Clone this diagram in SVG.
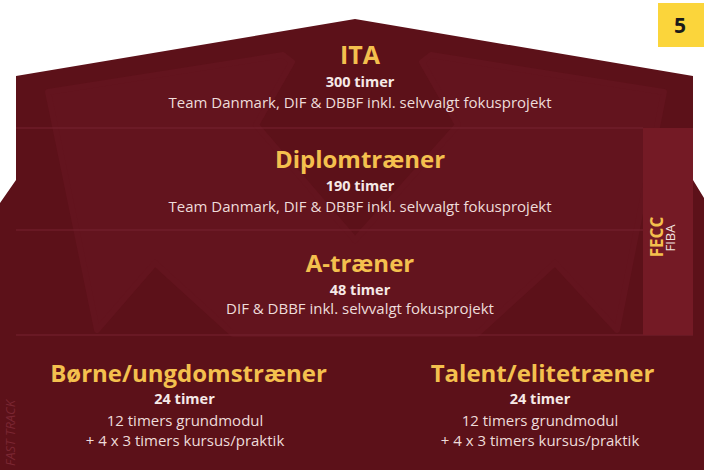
<svg xmlns="http://www.w3.org/2000/svg" width="704" height="470" viewBox="0 0 704 470">
  <style>
    .head { font-family: "Open Sans", "Liberation Sans", sans-serif; font-weight: 700; fill: #f4c04e; text-anchor: middle; }
    .hours { font-family: "Open Sans", "Liberation Sans", sans-serif; font-weight: 700; font-size: 14.5px; fill: #f6e9e7; text-anchor: middle; }
    .desc { font-family: "Open Sans", "Liberation Sans", sans-serif; font-size: 15px; fill: #eedcda; text-anchor: middle; }
    .sep { stroke: #772330; stroke-width: 1.2; }
  </style>
  <rect x="0" y="0" width="704" height="470" fill="#ffffff"/>
  <g id="background">
    <path d="M16,76 L355,19 L693,76 L693,180 L704,198 L704,470 L0,470 L0,203 L16,180 Z" fill="#5c1119"/>
    <polygon points="48,92 283,55 292,62 256,125 355,240 458,125 422,62 431,55 664,92 617,330 555,263 477,334 233,334 155,263 97,330" fill="#63141e" stroke="#63141e" stroke-width="6" stroke-linejoin="round"/>
    <line class="sep" x1="16" y1="128" x2="643" y2="128"/>
    <line class="sep" x1="16" y1="230" x2="643" y2="230"/>
    <line class="sep" x1="16" y1="335" x2="693" y2="335"/>
    <text x="15" y="466" transform="rotate(-90 15 466)" font-family="'Open Sans', sans-serif" font-style="italic" font-size="13" fill="#7a2632">FAST TRACK</text>
  </g>
  <g id="badge">
    <rect x="658" y="3" width="46" height="44" fill="#fbd53b"/>
    <text x="680" y="33" font-family="'Open Sans', 'Liberation Sans', sans-serif" font-weight="700" font-size="21" fill="#1a1a1a" text-anchor="middle">5</text>
  </g>
  <g id="fecc">
    <rect x="643" y="128" width="50" height="207" fill="#741a25"/>
    <text x="663" y="237" transform="rotate(-90 663 237)" font-family="'Open Sans', 'Liberation Sans', sans-serif" font-weight="700" font-size="17" fill="#f4c04e" text-anchor="middle">FECC</text>
    <text x="675" y="238" transform="rotate(-90 675 238)" font-family="'Open Sans', 'Liberation Sans', sans-serif" font-size="13" fill="#f1e1df" text-anchor="middle">FIBA</text>
  </g>
  <g id="ita">
    <text class="head" x="360" y="64" font-size="25">ITA</text>
    <text class="hours" x="360" y="87">300 timer</text>
    <text class="desc" x="360" y="107.5">Team Danmark, DIF &amp; DBBF inkl. selvvalgt fokusprojekt</text>
  </g>
  <g id="diplomtraener">
    <text class="head" x="360" y="168" font-size="24">Diplomtræner</text>
    <text class="hours" x="360" y="190.5">190 timer</text>
    <text class="desc" x="360" y="211.5">Team Danmark, DIF &amp; DBBF inkl. selvvalgt fokusprojekt</text>
  </g>
  <g id="a-traener">
    <text class="head" x="360" y="272" font-size="24">A-træner</text>
    <text class="hours" x="360" y="294.5">48 timer</text>
    <text class="desc" x="360" y="314">DIF &amp; DBBF inkl. selvvalgt fokusprojekt</text>
  </g>
  <g id="boerne-ungdomstraener">
    <text class="head" x="188.5" y="381.5" font-size="24">Børne/ungdomstræner</text>
    <text class="hours" x="184.5" y="404">24 timer</text>
    <text class="desc" x="185" y="425.5">12 timers grundmodul</text>
    <text class="desc" x="185" y="445.5">+ 4 x 3 timers kursus/praktik</text>
  </g>
  <g id="talent-elitetraener">
    <text class="head" x="542.5" y="381.5" font-size="24">Talent/elitetræner</text>
    <text class="hours" x="540" y="404">24 timer</text>
    <text class="desc" x="540" y="425.5">12 timers grundmodul</text>
    <text class="desc" x="540" y="445.5">+ 4 x 3 timers kursus/praktik</text>
  </g>
</svg>
